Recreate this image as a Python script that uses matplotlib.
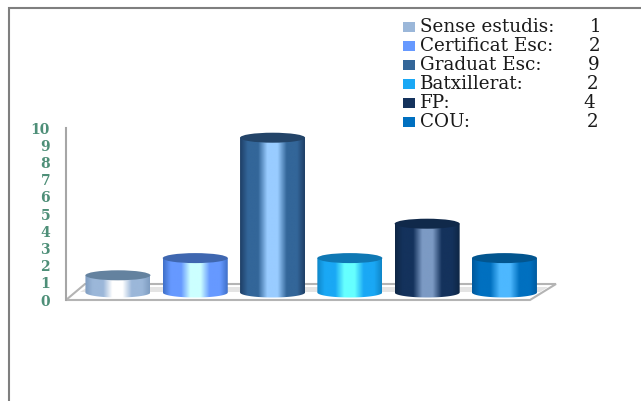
import matplotlib.pyplot as plt
import numpy as np
from matplotlib.colors import LinearSegmentedColormap
from matplotlib.patches import Ellipse, PathPatch, Polygon, Rectangle
from matplotlib.path import Path

categories = ['Sense estudis:', 'Certificat Esc:', 'Graduat Esc:', 'Batxillerat:', 'FP:', 'COU:']
values = [1, 2, 9, 2, 4, 2]
y_ticks = list(range(0, 11))

legend_colors = ['#9BB7D9', '#6699FF', '#336699', '#1AA8F5', '#14325C', '#0070C0']
top_colors = ['#64829F', '#3F67B0', '#234468', '#0F78B4', '#10294A', '#02558F']
edge_colors = ['#7E9CC0', '#3F6FC8', '#1E3F66', '#0F86C8', '#0E2644', '#01589C']
light_colors = ['#FFFFFF', '#CCFFFF', '#99CCFF', '#66FFFF', '#7C9AC4', '#4DB8FF']

W, H = 641, 401
SERIF = 'DejaVu Serif'
TEXT_GREEN = '#4E8F78'

fig = plt.figure(figsize=(W / 100, H / 100), dpi=100, facecolor='white')

# capa en pixeles para marco y suelo
bg = fig.add_axes([0, 0, 1, 1])
bg.set_xlim(0, W)
bg.set_ylim(H, 0)
bg.axis('off')
bg.plot([9, 9, W], [H, 8, 8], color='#7F7F7F', lw=1.5, solid_joinstyle='miter')

floor = Polygon([(66, 300), (530, 300), (556, 284), (85, 284)], closed=True,
                facecolor='white', edgecolor='#B4B4B4', lw=1.5)
bg.add_patch(floor)
bg.add_patch(Polygon([(80, 292), (540, 292), (548, 287), (88, 287)], closed=True,
                     facecolor='#E4E4E4', edgecolor='none'))

# eje y con sus etiquetas
ay = fig.add_axes([66 / W, 1 - 300 / H, 0.001, 172 / H])
ay.set_xlim(0, 1)
ay.set_ylim(0, 10)
ay.patch.set_alpha(0)
for s in ['top', 'right', 'bottom']:
    ay.spines[s].set_visible(False)
ay.spines['left'].set_color('#A6A6A6')
ay.spines['left'].set_linewidth(1.5)
ay.set_xticks([])
ay.set_yticks(y_ticks)
ay.tick_params(axis='y', length=0, pad=11.5, labelcolor=TEXT_GREEN)
for t in ay.get_yticklabels():
    t.set_fontfamily(SERIF)
    t.set_fontsize(10)
    t.set_fontweight('bold')

# cilindros: una posicion por categoria, altura segun el valor
ax = fig.add_axes([79.3 / W, 1 - 309.7 / H, 463.8 / W, 189.2 / H])
ax.set_xlim(-0.5, 5.5)
ax.set_ylim(-1, 10)
ax.axis('off')
ax.patch.set_alpha(0)

rx = 32.5 / 77.3
ry = 5.0 / 17.2

for i, v in enumerate(values):
    stops = [(0, edge_colors[i]), (0.12, legend_colors[i]), (0.28, legend_colors[i]),
             (0.42, light_colors[i]), (0.58, light_colors[i]), (0.72, legend_colors[i]),
             (0.88, legend_colors[i]), (1, edge_colors[i])]
    cmap = LinearSegmentedColormap.from_list(f'c{i}', stops)
    verts = [(i - rx, 0), (i - rx, v), (i + rx, v), (i + rx, 0)]
    codes = [Path.MOVETO, Path.LINETO, Path.LINETO, Path.LINETO]
    theta = np.linspace(0, np.pi, 40)
    for th in theta[1:]:
        verts.append((i + rx * np.cos(th), -ry * np.sin(th)))
        codes.append(Path.LINETO)
    clip = PathPatch(Path(verts, codes), transform=ax.transData, facecolor='none', edgecolor='none')
    ax.add_patch(clip)
    grad = np.linspace(0, 1, 256)[None, :]
    im = ax.imshow(grad, cmap=cmap, aspect='auto', zorder=2,
                   extent=(i - rx, i + rx, -ry - 0.1, v + 0.1), interpolation='bilinear')
    im.set_clip_path(clip)
    ax.add_patch(Ellipse((i, v), 2 * rx, 2 * ry, facecolor=top_colors[i], edgecolor='none', zorder=3))

ax.set_xlim(-0.5, 5.5)
ax.set_ylim(-1, 10)

# leyenda con los valores en columna
label_y = [27, 46, 65, 84, 103, 122]
value_x = [596, 595, 594, 593, 589, 593]
for name, col, val, ly, vx in zip(categories, legend_colors, values, label_y, value_x):
    bg.add_patch(Rectangle((403, ly - 5), 12, 10, facecolor=col, edgecolor='none'))
    bg.text(420, ly, name, family=SERIF, fontsize=13.2, color='#1A1A1A', va='center', ha='left')
    bg.text(vx, ly, str(val), family=SERIF, fontsize=13.2, color='#1A1A1A', va='center', ha='center')

fig.savefig('out.png', dpi=100)
plt.close(fig)
